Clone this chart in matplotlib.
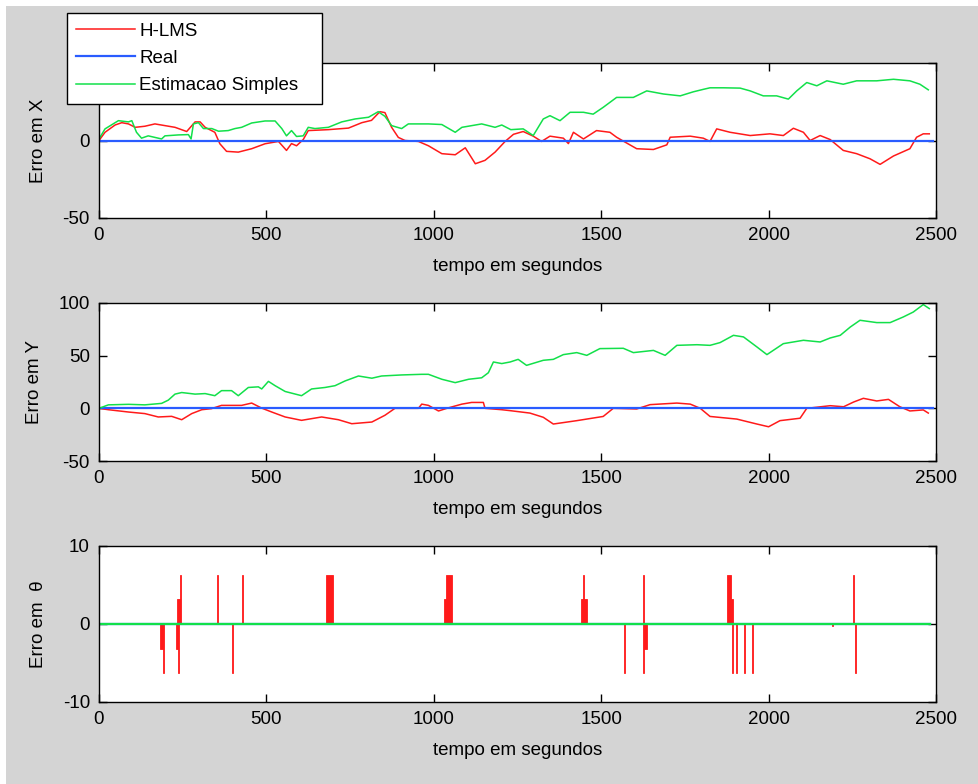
import matplotlib
matplotlib.use("Agg")
import matplotlib.pyplot as plt
from matplotlib.patches import Rectangle
import numpy as np

plt.rcParams['font.family'] = ['Liberation Sans', 'DejaVu Sans']
plt.rcParams['font.size'] = 13.5
plt.rcParams['axes.unicode_minus'] = False

RED = '#ff1a1a'
BLUE = '#2a5cff'
GREEN = '#12e04a'
GRAY = '#d4d4d4'

# --- Erro em X -------
t_hx = [0, 18, 48, 68, 88, 108, 137, 167, 197, 227, 262, 287, 302, 317, 346, 361,
        381, 416, 456, 496, 536, 560, 575, 590, 610, 625, 685, 745, 785, 814, 839,
        854, 874, 894, 914, 954, 984, 1024, 1064, 1094, 1124, 1153, 1183, 1213,
        1238, 1267, 1297, 1322, 1347, 1387, 1402, 1417, 1447, 1486, 1526, 1546,
        1571, 1606, 1656, 1696, 1706, 1766, 1805, 1825, 1845, 1885, 1945, 2004,
        2044, 2074, 2104, 2124, 2154, 2184, 2223, 2263, 2303, 2333, 2373, 2422,
        2442, 2462, 2480]
hlms_x = [0, 5.3, 10, 11.5, 10.7, 8.5, 9.2, 10.7, 9.6, 8.5, 5.8, 12, 12, 8.5, 5.3, -2.1,
          -7, -7.5, -5.3, -2.1, -0.6, -6.4, -2, -3.4, 0.6, 6.4, 7, 8, 11.5, 13, 18.6,
          18, 8.5, 2, 0, -0.6, -3.4, -8.5, -9.2, -4.7, -15, -12.8, -7.5, -0.6,
          4, 5.8, 2.8, -0.6, 2.8, 1.5, -2, 5.3, 1, 6.4, 5.3, 2.1,
          -1, -5.3, -5.8, -2.8, 2.1, 2.8, 1.5, -0.6, 7.5, 5.3, 3.2, 4.3,
          3.2, 7.9, 5.3, 0, 3.2, 0.6, -6.4, -8.5, -11.8, -15.4, -10, -5.3,
          2.1, 4.3, 4.3]

t_sx = [0, 18, 58, 88, 98, 112, 127, 147, 167, 187, 197, 237, 267, 275, 282, 297,
        312, 337, 357, 386, 406, 426, 456, 496, 526, 546, 560, 575, 590, 610, 625,
        645, 685, 725, 765, 805, 834, 854, 874, 904, 924, 984, 1024, 1064, 1084,
        1143, 1183, 1203, 1230, 1267, 1297, 1327, 1347, 1377, 1407, 1447, 1476,
        1506, 1546, 1596, 1636, 1686, 1736, 1775, 1805, 1825, 1865, 1915, 1945,
        1984, 2024, 2059, 2084, 2114, 2144, 2174, 2223, 2263, 2323, 2373, 2422,
        2452, 2477]
simples_x = [1, 7.5, 12.8, 12, 12.8, 5.3, 1.5, 3, 2, 1, 3, 3.6, 3.8, 1, 10.7, 11.5,
             7.7, 7.7, 6, 6.4, 7.7, 8.5, 11.3, 12.6, 12.6, 7.7, 3, 6.4, 2.6, 3, 8.5,
             7.7, 8.5, 12, 13.9, 15, 18.6, 15.6, 9.6, 7.7, 10.7, 10.7, 10.3, 5.3, 8.5,
             10.7, 8.5, 10, 7, 7.5, 3.2, 13.9, 16, 12.8, 18.2, 18.2, 17,
             21.4, 27.8, 27.8, 32, 30, 28.8, 31.4, 33, 34, 34, 33.8, 32,
             28.8, 28.8, 26.7, 32, 37.4, 35.3, 38.5, 36.3, 38.5, 38.5, 39.5, 38.5,
             36.3, 32.7]

# --- Erro em Y -------
t_hy = [0, 28, 88, 137, 177, 217, 247, 277, 307, 336, 366, 426, 456, 486, 516, 556,
        605, 665, 715, 755, 815, 854, 884, 954, 964, 984, 1014, 1044, 1084, 1113,
        1148, 1153, 1203, 1228, 1287, 1327, 1357, 1427, 1506, 1536, 1606, 1646,
        1726, 1766, 1796, 1825, 1905, 1965, 2000, 2034, 2094, 2114, 2184, 2224,
        2254, 2283, 2323, 2358, 2392, 2422, 2462, 2477]
hlms_y = [0, -1.3, -3.5, -5, -8.2, -7.6, -10.8, -5, -1.3, -0.3, 2.8, 2.8, 5, 0.2, -3.5, -8.2,
          -11.4, -8.2, -10.8, -14.6, -13, -6.6, 0, 0, 4, 2.8, -2.5, 0.5, 4, 5.6,
          5.6, 0, -1.3, -2.2, -4.5, -8.5, -14.9, -11.7, -7.7, 0, -0.6, 3.5,
          5, 4, 0, -7.7, -10.2, -14.9, -17.5, -11.7, -9.4, 0, 2.5, 1.5,
          6, 9.5, 7, 8.5, 1.5, -2.5, -1.5, -4.5]

t_sy = [0, 28, 88, 137, 187, 207, 227, 247, 287, 317, 346, 366, 396, 416, 446, 476,
        486, 506, 526, 556, 605, 635, 675, 705, 735, 775, 815, 844, 904, 964, 984,
        1024, 1064, 1104, 1143, 1163, 1178, 1203, 1228, 1252, 1277, 1327, 1357,
        1387, 1427, 1457, 1496, 1566, 1596, 1656, 1691, 1726, 1786, 1825, 1855,
        1895, 1925, 1965, 1995, 2044, 2104, 2154, 2184, 2214, 2244, 2273, 2323,
        2363, 2402, 2432, 2462, 2480]
simples_y = [0, 3.3, 3.8, 3.3, 4.7, 7.8, 13.5, 15, 13.5, 14, 12, 16.8, 16.8, 12, 19.8, 20.4,
             18.4, 25.6, 21.5, 16, 12, 18.4, 19.8, 21.5, 26, 30.7, 28.6, 30.7, 31.7, 32.3, 32.3,
             27.6, 24.4, 27.6, 29, 33.8, 44, 42.5, 44, 46.5, 40.8, 45.6, 46.5,
             51, 52.9, 50.3, 56.7, 57, 52.9, 55, 50.3, 59.8, 60.4, 59.8, 62.4,
             69.3, 67.8, 58.3, 51, 61.4, 64.6, 63, 66.8, 69.3, 77.2, 83.6, 81.4,
             81.4, 86.7, 91.4, 98.5, 94.7]

# --- Erro em theta: (inicio, fim, valor) dos picos do H-LMS -------
PI = np.pi
th_start = [182, 191, 230, 237, 234, 243, 352, 398, 427, 678, 1029, 1037, 1439, 1446,
            1568, 1625, 1625, 1628, 1877, 1889, 1890, 1902, 1926, 1949, 2190, 2252, 2259]
th_end = [191, 194, 237, 240, 243, 246, 355, 401, 430, 698, 1037, 1053, 1457, 1449,
          1571, 1628, 1628, 1636, 1889, 1895, 1893, 1905, 1929, 1952, 2193, 2255, 2262]
th_val = [-PI, -2*PI, -PI, -2*PI, PI, 2*PI, 2*PI, -2*PI, 2*PI, 2*PI, PI, 2*PI, PI, 2*PI,
          -2*PI, 2*PI, -2*PI, -PI, 2*PI, PI, -2*PI, -2*PI, -2*PI, -2*PI, -0.3, 2*PI, -2*PI]

t_real = [0, 2490]
real = [0, 0]
t_th = [0, 2482]
real_th = [0, 0]
simples_th = [0, 0]

fig = plt.figure(figsize=(9.79, 7.84), dpi=100, facecolor='white')
fig.add_artist(Rectangle((6 / 979, 0), 1, 1 - 6 / 784, transform=fig.transFigure,
                         facecolor=GRAY, edgecolor='none', zorder=-10))

W, H = 979, 784
def box(top, bottom):
    return [99 / W, 1 - bottom / H, (936 - 99) / W, (bottom - top) / H]

ax1 = fig.add_axes(box(63, 218))
ax2 = fig.add_axes(box(303, 461))
ax3 = fig.add_axes(box(546, 702))

l1, = ax1.plot(t_hx, hlms_x, color=RED, lw=1.1)
l2, = ax1.plot(t_real, real, color=BLUE, lw=1.6)
l3, = ax1.plot(t_sx, simples_x, color=GREEN, lw=1.1)

ax2.plot(t_hy, hlms_y, color=RED, lw=1.1)
ax2.plot(t_real, real, color=BLUE, lw=1.6)
ax2.plot(t_sy, simples_y, color=GREEN, lw=1.1)

widths = [e - s for s, e in zip(th_start, th_end)]
ax3.bar(th_start, th_val, width=widths, align='edge', color=RED,
        edgecolor=RED, linewidth=0.6)
ax3.plot(t_th, real_th, color=BLUE, lw=1.6)
ax3.plot(t_th, simples_th, color=GREEN, lw=1.6)

for ax, lim, ticks, lab in [(ax1, (-50, 50), [-50, 0, 50], 'Erro em X'),
                            (ax2, (-50, 100), [-50, 0, 50, 100], 'Erro em Y'),
                            (ax3, (-10, 10), [-10, 0, 10], 'Erro em  θ')]:
    ax.set_xlim(0, 2500)
    ax.set_ylim(*lim)
    ax.set_xticks([0, 500, 1000, 1500, 2000, 2500])
    ax.set_yticks(ticks)
    ax.tick_params(direction='in', top=True, right=True, length=6, width=1, pad=6.5)
    for sp in ax.spines.values():
        sp.set_linewidth(1.0)
    ax.set_xlabel('tempo em segundos', labelpad=10)
    ax.set_ylabel(lab, labelpad=11)

leg = fig.legend([l1, l2, l3], ['H-LMS', 'Real', 'Estimacao Simples'],
                 loc='upper left', bbox_to_anchor=(67 / W, 1 - 103 / H, 255 / W, 90 / H),
                 mode='expand', fancybox=False, framealpha=1, edgecolor='black',
                 handlelength=3.1, handletextpad=0.25, borderpad=0.5,
                 labelspacing=0.55, borderaxespad=0)
leg.get_frame().set_linewidth(1.0)

fig.savefig('out.png', dpi=100, facecolor=fig.get_facecolor())
